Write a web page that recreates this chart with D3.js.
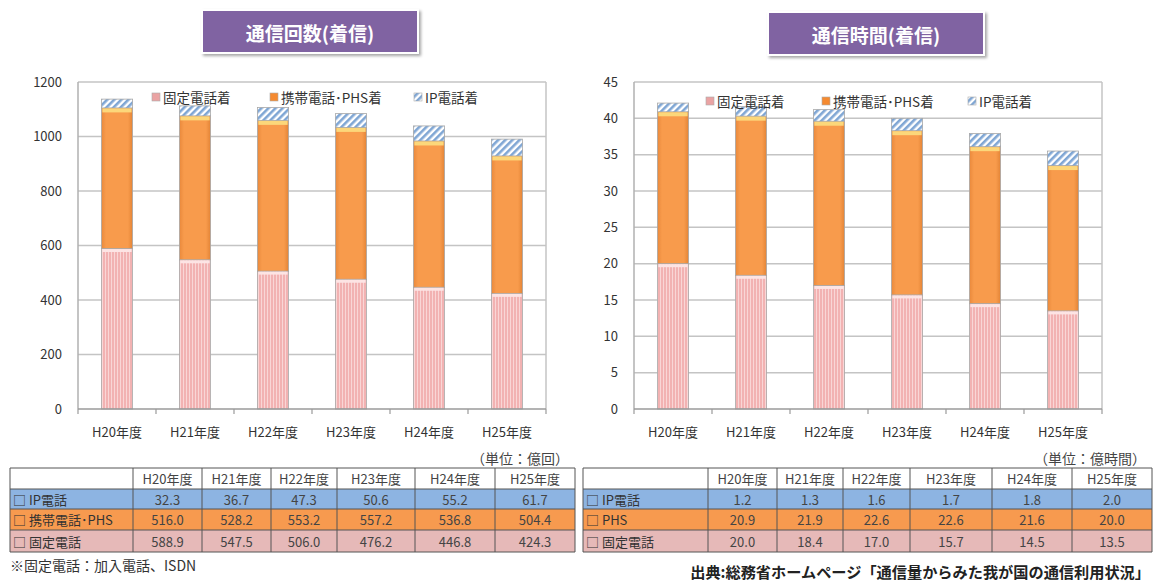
<meta charset="utf-8">
<title>通信回数・通信時間(着信)</title>
<style>
  body { margin: 0; background: #fff; }
  svg { display: block; font-family: "Noto Sans CJK JP", "Noto Sans", sans-serif; }
</style>
<body>
<script src="https://cdn.jsdelivr.net/npm/d3@7"></script>
<script>

var years = ["H20年度", "H21年度", "H22年度", "H23年度", "H24年度", "H25年度"];
var legendNames = ["固定電話着", "携帯電話･PHS着", "IP電話着"];

// 通信回数 (億回)
var countFixed  = [588.9, 547.5, 506.0, 476.2, 446.8, 424.3];
var countMobile = [516.0, 528.2, 553.2, 557.2, 536.8, 504.4];
var countIP     = [32.3, 36.7, 47.3, 50.6, 55.2, 61.7];
var countTicks  = [0, 200, 400, 600, 800, 1000, 1200];

// 通信時間 (億時間)
var timeFixed  = [20.0, 18.4, 17.0, 15.7, 14.5, 13.5];
var timeMobile = [20.9, 21.9, 22.6, 22.6, 21.6, 20.0];
var timeIP     = [1.2, 1.3, 1.6, 1.7, 1.8, 2.0];
var timeTicks  = [0, 5, 10, 15, 20, 25, 30, 35, 40, 45];

var countRowNames = ["IP電話", "携帯電話･PHS", "固定電話"];
var timeRowNames  = ["IP電話", "PHS", "固定電話"];

var width = 1161, height = 581;

var svg = d3.select("body").append("svg")
  .attr("width", width)
  .attr("height", height);

// patterns / gradients
var defs = svg.append("defs");

var pinkPat = defs.append("pattern")
  .attr("id", "pinkStripe").attr("patternUnits", "userSpaceOnUse")
  .attr("width", 3).attr("height", 10);
pinkPat.append("rect").attr("width", 3).attr("height", 10).attr("fill", "#f2b2b2");
pinkPat.append("rect").attr("width", 1).attr("height", 10).attr("fill", "#f9d6d6");

var orangeGrad = defs.append("linearGradient").attr("id", "orangeGrad")
  .attr("x1", "0%").attr("x2", "100%").attr("y1", "0%").attr("y2", "0%");
orangeGrad.append("stop").attr("offset", "0%").attr("stop-color", "#e9893c");
orangeGrad.append("stop").attr("offset", "15%").attr("stop-color", "#f89b4c");
orangeGrad.append("stop").attr("offset", "85%").attr("stop-color", "#f89b4c");
orangeGrad.append("stop").attr("offset", "100%").attr("stop-color", "#e38436");

var hatch = defs.append("pattern")
  .attr("id", "ipHatch").attr("patternUnits", "userSpaceOnUse")
  .attr("width", 5).attr("height", 5)
  .attr("patternTransform", "rotate(45)");
hatch.append("rect").attr("width", 5).attr("height", 5).attr("fill", "#ffffff");
hatch.append("rect").attr("width", 2.6).attr("height", 5).attr("fill", "#7fa6d4");

var shadow = defs.append("filter").attr("id", "shadow")
  .attr("x", "-10%").attr("y", "-20%").attr("width", "125%").attr("height", "150%");
shadow.append("feDropShadow").attr("dx", 2).attr("dy", 2).attr("stdDeviation", 1.5)
  .attr("flood-color", "#000").attr("flood-opacity", 0.35);

var segFill = ["url(#pinkStripe)", "url(#orangeGrad)", "url(#ipHatch)"];
var legendFill = ["#eaa3a3", "#f58a30", "url(#ipHatch)"];

function drawTitle(cx, y, label) {
  svg.append("rect")
    .attr("x", cx - 108).attr("y", y).attr("width", 216).attr("height", 43)
    .attr("fill", "#8064a2").attr("stroke", "#fff").attr("stroke-width", 2)
    .attr("filter", "url(#shadow)");
  svg.append("text")
    .attr("x", cx).attr("y", y + 22)
    .attr("text-anchor", "middle").attr("dominant-baseline", "central")
    .attr("fill", "#fff").attr("font-size", 19).attr("font-weight", "bold")
    .text(label);
}

function drawChart(cfg) {
  var g = svg.append("g");
  var rows = years.map(function(y, i) {
    return { year: y, fixed: cfg.fixed[i], mobile: cfg.mobile[i], ip: cfg.ip[i] };
  });
  var series = d3.stack().keys(["fixed", "mobile", "ip"])(rows);

  var x = d3.scaleBand().domain(years)
    .range([cfg.left, cfg.right]).paddingInner(0.6).paddingOuter(0.3);
  var y = d3.scaleLinear().domain([0, d3.max(cfg.ticks)]).range([cfg.bottom, cfg.top]);

  // grid
  g.selectAll(".grid").data(cfg.ticks.slice(1)).enter().append("line")
    .attr("x1", cfg.left).attr("x2", cfg.right)
    .attr("y1", function(d) { return y(d); }).attr("y2", function(d) { return y(d); })
    .attr("stroke", "#c4c4c4").attr("stroke-width", 1.5);
  g.append("line")
    .attr("x1", cfg.left).attr("x2", cfg.left).attr("y1", cfg.top).attr("y2", cfg.bottom)
    .attr("stroke", "#b0b0b0").attr("stroke-width", 1.5);
  g.append("line")
    .attr("x1", cfg.right).attr("x2", cfg.right).attr("y1", cfg.top).attr("y2", cfg.bottom)
    .attr("stroke", "#c4c4c4").attr("stroke-width", 1.5);

  // y labels
  var yAxis = d3.axisLeft(y).tickValues(cfg.ticks).tickFormat(d3.format("d"))
    .tickSize(0).tickPadding(0);
  var ya = g.append("g").attr("transform", "translate(" + cfg.labelX + ",0)").call(yAxis);
  ya.select(".domain").remove();
  ya.selectAll("text").attr("font-size", 13).attr("fill", "#333")
    .attr("font-family", "'Noto Sans CJK JP', sans-serif");

  // bars
  series.forEach(function(s, k) {
    g.selectAll(".seg" + k).data(s).enter().append("rect")
      .attr("x", function(d) { return x(d.data.year); })
      .attr("width", x.bandwidth())
      .attr("y", function(d) { return y(d[1]); })
      .attr("height", function(d) { return y(d[0]) - y(d[1]); })
      .attr("fill", segFill[k])
      .attr("stroke", "#a8a8a8").attr("stroke-width", 0.8);
  });
  // top highlights of pink and orange segments
  g.selectAll(".hiPink").data(series[0]).enter().append("rect")
    .attr("x", function(d) { return x(d.data.year) + 1; })
    .attr("width", x.bandwidth() - 2)
    .attr("y", function(d) { return y(d[1]) + 0.5; })
    .attr("height", 3).attr("fill", "#fde4e4");
  g.selectAll(".hiOrange").data(series[1]).enter().append("rect")
    .attr("x", function(d) { return x(d.data.year) + 1; })
    .attr("width", x.bandwidth() - 2)
    .attr("y", function(d) { return y(d[1]) + 0.5; })
    .attr("height", 4).attr("fill", "#fcd77a");

  // x axis
  g.append("line")
    .attr("x1", cfg.left).attr("x2", cfg.right).attr("y1", cfg.bottom).attr("y2", cfg.bottom)
    .attr("stroke", "#9a9a9a").attr("stroke-width", 1.5);
  var bounds = d3.range(years.length + 1).map(function(i) { return cfg.left + i * x.step(); });
  g.selectAll(".xt").data(bounds).enter().append("line")
    .attr("x1", function(d) { return d; }).attr("x2", function(d) { return d; })
    .attr("y1", cfg.bottom).attr("y2", cfg.bottom + 5)
    .attr("stroke", "#9a9a9a").attr("stroke-width", 1.2);
  g.selectAll(".xl").data(years).enter().append("text")
    .attr("x", function(d) { return x(d) + x.bandwidth() / 2; })
    .attr("y", cfg.bottom + 22)
    .attr("text-anchor", "middle").attr("dominant-baseline", "central")
    .attr("font-size", 13).attr("fill", "#333")
    .text(function(d) { return d; });

  // legend
  legendNames.forEach(function(name, k) {
    g.append("rect")
      .attr("x", cfg.legendX[k]).attr("y", cfg.legendY - 4)
      .attr("width", 8).attr("height", 8)
      .attr("fill", legendFill[k]).attr("stroke", "#aaa").attr("stroke-width", 0.6);
    g.append("text")
      .attr("x", cfg.legendX[k] + 11).attr("y", cfg.legendY)
      .attr("dominant-baseline", "central")
      .attr("font-size", 13.5).attr("fill", "#333")
      .text(name);
  });
}

function drawTable(cfg) {
  var g = svg.append("g");
  var rowFill = ["#8db4e2", "#f79a4f", "#e6b9b8"];
  var rowH = [cfg.rows[1] - cfg.rows[0], cfg.rows[2] - cfg.rows[1], cfg.rows[3] - cfg.rows[2], cfg.rows[4] - cfg.rows[3]];
  var values = [cfg.ip, cfg.mobile, cfg.fixed];

  // header row
  g.append("rect").attr("x", cfg.cols[0]).attr("y", cfg.rows[0])
    .attr("width", cfg.cols[7] - cfg.cols[0]).attr("height", rowH[0]).attr("fill", "#fff");
  values.forEach(function(v, r) {
    g.append("rect").attr("x", cfg.cols[0]).attr("y", cfg.rows[r + 1])
      .attr("width", cfg.cols[7] - cfg.cols[0]).attr("height", rowH[r + 1])
      .attr("fill", rowFill[r]);
  });
  // grid lines
  cfg.rows.forEach(function(ry) {
    g.append("line").attr("x1", cfg.cols[0]).attr("x2", cfg.cols[7])
      .attr("y1", ry).attr("y2", ry).attr("stroke", "#555").attr("stroke-width", 1);
  });
  cfg.cols.forEach(function(cx) {
    g.append("line").attr("x1", cx).attr("x2", cx)
      .attr("y1", cfg.rows[0]).attr("y2", cfg.rows[4]).attr("stroke", "#555").attr("stroke-width", 1);
  });

  years.forEach(function(yr, i) {
    g.append("text")
      .attr("x", (cfg.cols[i + 1] + cfg.cols[i + 2]) / 2).attr("y", (cfg.rows[0] + cfg.rows[1]) / 2)
      .attr("text-anchor", "middle").attr("dominant-baseline", "central")
      .attr("font-size", 13).attr("fill", "#444").text(yr);
  });
  values.forEach(function(v, r) {
    var cy = (cfg.rows[r + 1] + cfg.rows[r + 2]) / 2;
    g.append("text")
      .attr("x", cfg.cols[0] + 3).attr("y", cy)
      .attr("dominant-baseline", "central")
      .attr("font-size", 13).attr("fill", "#333")
      .text("□ " + cfg.names[r]);
    v.forEach(function(val, i) {
      g.append("text")
        .attr("x", (cfg.cols[i + 1] + cfg.cols[i + 2]) / 2).attr("y", cy)
        .attr("text-anchor", "middle").attr("dominant-baseline", "central")
        .attr("font-size", 13).attr("fill", "#444")
        .text(val.toFixed(1));
    });
  });
  g.append("text")
    .attr("x", cfg.cols[7] - 6).attr("y", cfg.rows[0] - 10)
    .attr("text-anchor", "end").attr("dominant-baseline", "central")
    .attr("font-size", 14).attr("fill", "#444")
    .text(cfg.unit);
}

drawTitle(310, 10, "通信回数(着信)");
drawTitle(876, 12, "通信時間(着信)");

drawChart({
  left: 78, right: 546, top: 82, bottom: 409, labelX: 62,
  ticks: countTicks, fixed: countFixed, mobile: countMobile, ip: countIP,
  legendX: [152, 270, 414], legendY: 97
});
drawChart({
  left: 634, right: 1102, top: 82, bottom: 409, labelX: 618,
  ticks: timeTicks, fixed: timeFixed, mobile: timeMobile, ip: timeIP,
  legendX: [706, 822, 968], legendY: 101
});

drawTable({
  cols: [10, 133, 202, 271, 337, 415, 495, 575],
  rows: [468, 489, 509, 530, 552],
  names: countRowNames, ip: countIP, mobile: countMobile, fixed: countFixed,
  unit: "（単位：億回）"
});
drawTable({
  cols: [583, 708, 777, 843, 910, 992, 1072, 1152],
  rows: [468, 489, 509, 530, 552],
  names: timeRowNames, ip: timeIP, mobile: timeMobile, fixed: timeFixed,
  unit: "（単位：億時間）"
});

svg.append("text")
  .attr("x", 10).attr("y", 565)
  .attr("dominant-baseline", "central")
  .attr("font-size", 14).attr("fill", "#333")
  .text("※固定電話：加入電話、ISDN");

svg.append("text")
  .attr("x", 1150).attr("y", 571)
  .attr("text-anchor", "end").attr("dominant-baseline", "central")
  .attr("font-size", 15.2).attr("font-weight", "bold").attr("fill", "#222")
  .text("出典:総務省ホームページ「通信量からみた我が国の通信利用状況」");

</script>
</body>
